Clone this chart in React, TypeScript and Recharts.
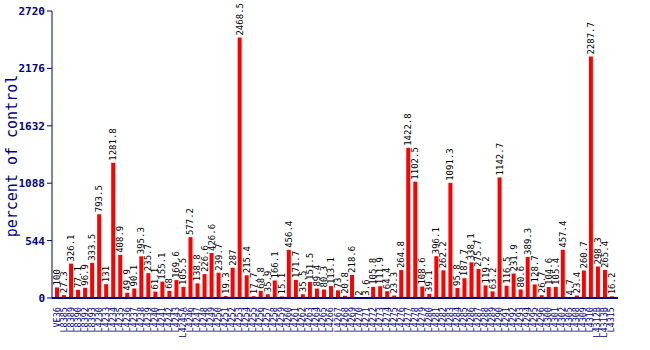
import React from 'react';
import { BarChart, Bar, XAxis, YAxis, LabelList } from 'recharts';

const strains = [
  'VE36', 'L8385', 'L8389', 'L8390', 'L8392', 'L8393', 'L4230', 'L4233', 'L4234', 'L4235',
  'L4236', 'L4237', 'L4238', 'L4239', 'L4240', 'L4241', 'L4242', 'L4243', 'L4245A', 'L4246',
  'L4247', 'L4248', 'L4249', 'L4250', 'L4251', 'L4252', 'L4253', 'L4254', 'L4255', 'L4256',
  'L4257', 'L4258', 'L4259', 'L4260', 'L4261', 'L4262', 'L4263', 'L4264', 'L4265', 'L4266',
  'L4267', 'L4268', 'L4269', 'L4270', 'L4271', 'L4272', 'L4273', 'L4274', 'L4275', 'L4276',
  'L4277', 'L4278', 'L4279', 'L4280', 'L4281', 'L4282', 'L4283', 'L4284', 'L4285', 'L4286',
  'L4287', 'L4288', 'L4289', 'L4290', 'L4291', 'L4292', 'L4293', 'L4294', 'L4295', 'L4296',
  'L4300', 'L4301', 'L4302', 'L4305', 'L4308', 'L4309', 'L4310', 'L4312B', 'L4313B', 'L4315',
];

const percent = [
  100, 27.3, 326.1, 77.1, 96.9, 333.5, 793.5, 131, 1281.8, 408.9,
  49.9, 90.1, 395.3, 235.7, 61.1, 155.1, 68, 169.6, 105.5, 577.2,
  138.8, 226.6, 426.6, 239.7, 19.3, 287, 2468.5, 215.4, 17.7, 68.8,
  35.9, 166.1, 15.1, 456.4, 171.7, 35.5, 151.5, 89.4, 80.3, 113.1,
  73, 20.8, 218.6, 2, 3.6, 105.8, 111.9, 64.4, 23.3, 264.8,
  1422.8, 1102.5, 108.6, 39.1, 396.1, 262.2, 1091.3, 95.8, 187.7, 338.1,
  275.7, 119.2, 63.2, 1142.7, 116.5, 231.9, 80.6, 389.3, 128.7, 26.7,
  104.6, 105.4, 457.4, 4.7, 23.4, 260.7, 2287.7, 298.3, 265.4, 16.2,
];

const yTicks = [0, 544, 1088, 1632, 2176, 2720];

const data = strains.map((name, i) => ({ name, value: percent[i] }));

const navy = '#000080';
const mono = '"DejaVu Sans Mono", "Liberation Mono", monospace';

const ValueLabel = (props: any) => {
  const { x, y, width, value } = props;
  const cx = x + width / 2;
  const ty = y - 2;
  return (
    <text
      x={cx}
      y={ty}
      transform={`rotate(-90 ${cx} ${ty})`}
      textAnchor="start"
      dominantBaseline="central"
      fontSize={9}
      fontFamily={mono}
      fill="#000"
    >
      {value}
    </text>
  );
};

const XTick = (props: any) => {
  const { x, y, payload } = props;
  return (
    <text
      x={x}
      y={y}
      transform={`rotate(-90 ${x} ${y})`}
      textAnchor="end"
      dominantBaseline="central"
      fontSize={8.5}
      fontFamily={mono}
      fill={navy}
    >
      {payload.value}
    </text>
  );
};

const YTitle = () => (
  <text
    x={12}
    y={156}
    transform="rotate(-90 12 156)"
    textAnchor="middle"
    dominantBaseline="central"
    fontSize={15}
    fontFamily={mono}
    fill={navy}
  >
    percent of control
  </text>
);

const App: React.FC = () => {
  return (
    <div style={{ position: 'absolute', left: 0, top: 0, width: 650, height: 350, background: '#fff' }}>
      <BarChart
        width={650}
        height={350}
        data={data}
        margin={{ top: 11, right: 32, left: 0, bottom: 0 }}
        barSize={4}
      >
        <XAxis
          dataKey="name"
          interval={0}
          height={52}
          tickLine={false}
          axisLine={{ stroke: navy, strokeWidth: 2 }}
          tick={<XTick />}
          tickMargin={3}
          padding={{ left: 1, right: 3 }}
        />
        <XAxis xAxisId="top" orientation="top" dataKey="name" height={0} tick={false} tickLine={false} axisLine={{ stroke: navy }} />
        <YAxis
          width={52}
          domain={[0, 2720]}
          ticks={yTicks}
          interval={0}
          tickLine={{ stroke: navy }}
          tickSize={5}
          axisLine={{ stroke: navy }}
          tick={{ fontSize: 11, fontWeight: 700, fontFamily: mono, fill: navy }}
          label={<YTitle />}
        />
        <YAxis yAxisId="right" orientation="right" width={0} tick={false} tickLine={false} axisLine={{ stroke: navy }} />
        <Bar dataKey="value" fill="#ff0000" isAnimationActive={false}>
          <LabelList dataKey="value" content={<ValueLabel />} />
        </Bar>
      </BarChart>
    </div>
  );
};

export default App;
